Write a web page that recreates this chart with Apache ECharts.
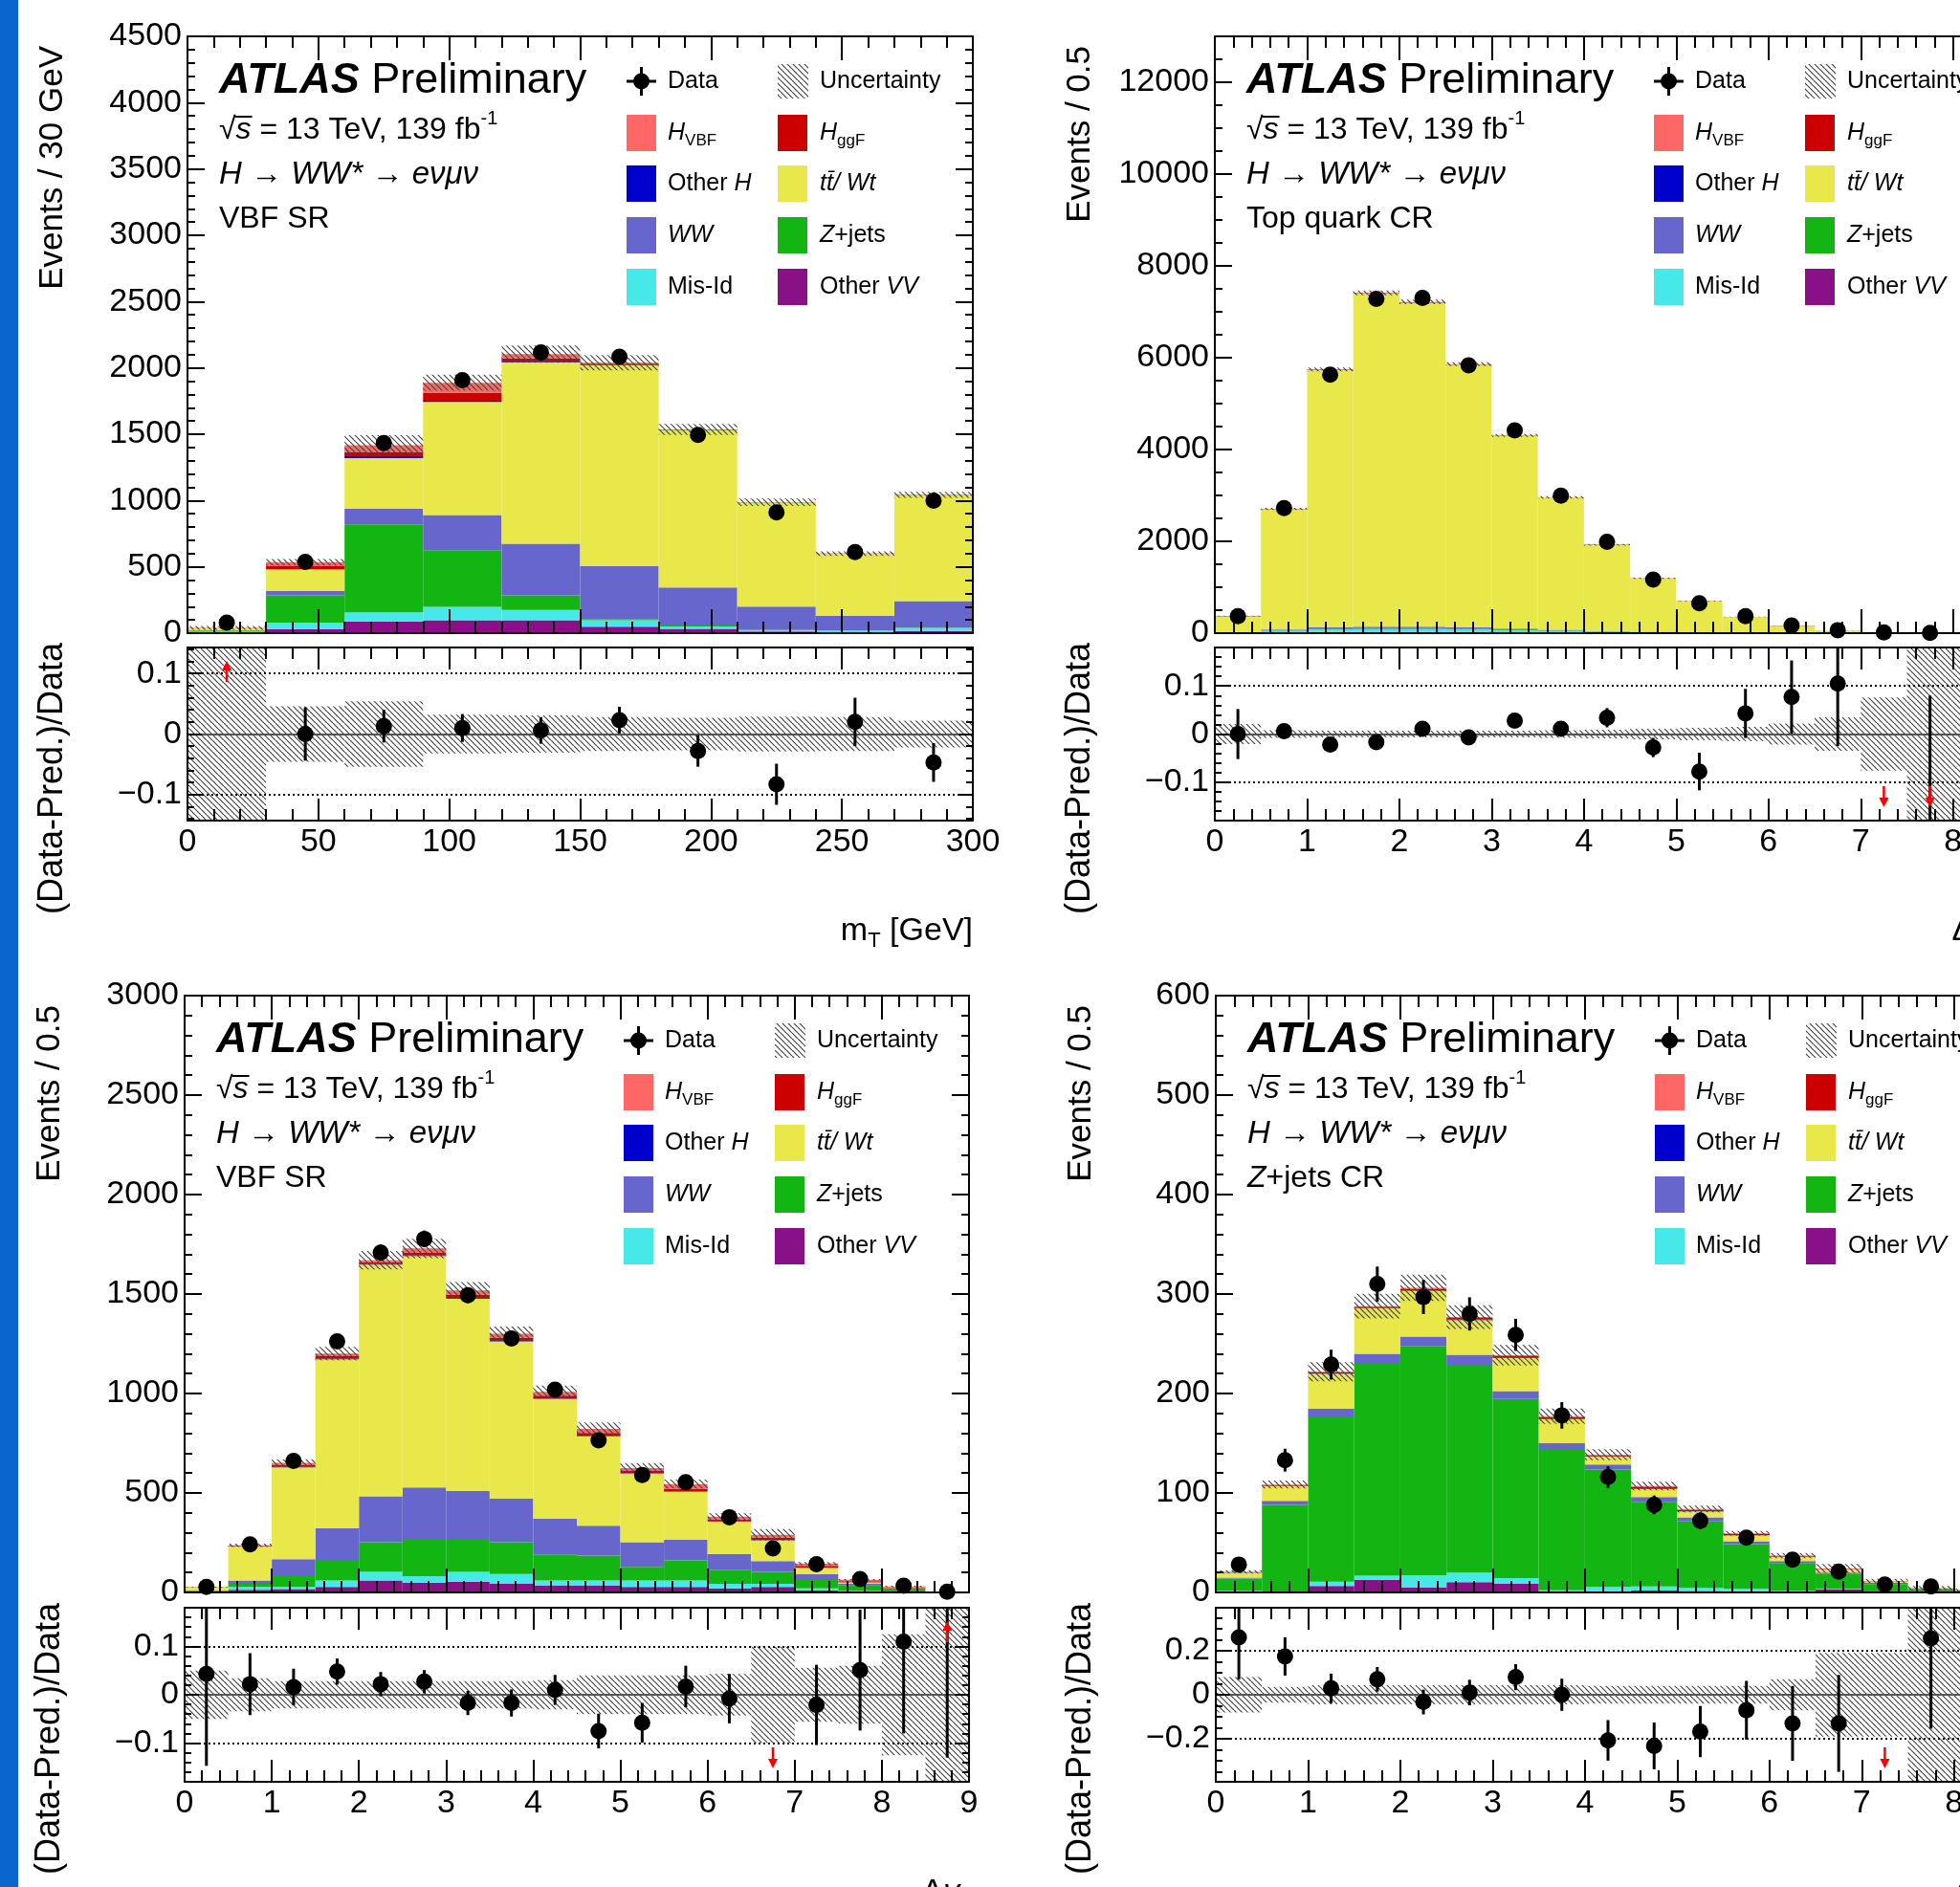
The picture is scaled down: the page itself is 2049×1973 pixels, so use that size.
<!DOCTYPE html>
<html>
<head>
<meta charset="utf-8">
<title>ATLAS Preliminary - H to WW* to e nu mu nu, VBF SR and control regions</title>
<script src="https://cdn.jsdelivr.net/npm/echarts@6.0.0/dist/echarts.min.js"></script>
<style>
  html, body { margin: 0; padding: 0; background: #ffffff; overflow: hidden; }
  /* wider than the window: the right-hand panels run past the edge and get cut, as in the original */
  #chart { width: 2120px; height: 1973px; }
</style>
</head>
<body>
<div id="chart"></div>
<script>
// ---- m_T in the VBF SR (top left), 30 GeV bins ----
var mtCenters  = [15, 45, 75, 105, 135, 165, 195, 225, 255, 285];
var mtOtherVV  = [4, 31, 89, 97, 97, 48, 32, 13, 8, 16];
var mtMisId    = [6, 48, 67, 102, 78, 49, 16, 9, 12, 23];
var mtZjets    = [8, 205, 664, 427, 109, 9, 10, 3, 2, 2];
var mtWW       = [4, 36, 120, 264, 390, 400, 287, 175, 107, 200];
var mtTop      = [16, 161, 380, 853, 1366, 1514, 1185, 785, 470, 800];
var mtOtherH   = [0, 2, 15, 10, 6, 3, 1, 0, 0, 0];
var mtGgF      = [1, 22, 32, 61, 26, 8, 3, 1, 1, 1];
var mtVbf      = [1, 30, 50, 74, 32, 8, 2, 1, 0, 1];
var mtData     = [80, 538, 1433, 1907, 2116, 2084, 1494, 911, 612, 998];
var mtDataErr  = [9, 23, 38, 44, 46, 46, 39, 30, 25, 32];
var mtRatio    = [0.5, 0.0, 0.013, 0.010, 0.006, 0.023, -0.028, -0.083, 0.020, -0.047];
var mtRatioErr = [0.1, 0.044, 0.027, 0.023, 0.022, 0.022, 0.026, 0.034, 0.040, 0.032];
var mtUnc      = [0.35, 0.046, 0.054, 0.032, 0.031, 0.028, 0.027, 0.029, 0.028, 0.022];
var mtXTicks   = [0, 50, 100, 150, 200, 250, 300];
var mtYTicks   = [0, 500, 1000, 1500, 2000, 2500, 3000, 3500, 4000, 4500];
var mtRTicks   = [-0.1, 0, 0.1];

// ---- Top quark CR (top right), 0.5 bins ----
var topCenters  = [0.25, 0.75, 1.25, 1.75, 2.25, 2.75, 3.25, 3.75, 4.25, 4.75, 5.25, 5.75, 6.25, 6.75, 7.25, 7.75, 8.25];
var topOtherVV  = [3, 15, 25, 28, 28, 25, 20, 15, 10, 7, 4, 2, 1, 0.5, 0.2, 0.1, 0];
var topMisId    = [5, 35, 55, 60, 60, 52, 42, 30, 20, 12, 7, 4, 2, 1, 0.3, 0.1, 0];
var topZjets    = [2, 12, 18, 20, 20, 17, 14, 10, 7, 5, 3, 2, 1, 0.4, 0.2, 0.1, 0];
var topWW       = [4, 18, 30, 35, 35, 30, 24, 18, 12, 8, 5, 3, 1.5, 0.7, 0.3, 0.1, 0];
var topTop      = [358, 2617, 5603, 7252, 7057, 5723, 4198, 2878, 1870, 1161, 680, 344, 148, 55, 19, 7.6, 3];
var topOtherH   = [0.5, 1, 1, 1, 1, 1, 1, 0.5, 0.5, 0.3, 0.2, 0.1, 0, 0, 0, 0, 0];
var topGgF      = [1, 5, 8, 8, 8, 7, 5, 4, 3, 2, 1, 0.6, 0.3, 0.1, 0.1, 0, 0];
var topVbf      = [0.5, 3, 5, 6, 6, 5, 4, 3, 2, 1.5, 1, 0.5, 0.3, 0.2, 0.1, 0.1, 0];
var topData     = [372, 2725, 5628, 7283, 7302, 5832, 4418, 2995, 1991, 1165, 651, 372, 167, 65, 15, 6, 2];
var topDataErr  = [19, 52, 75, 85, 85, 76, 66, 55, 45, 34, 26, 19, 13, 8, 4, 2.5, 1.5];
var topRatio    = [0.0, 0.006, -0.022, -0.017, 0.011, -0.007, 0.028, 0.011, 0.034, -0.028, -0.078, 0.043, 0.077, 0.105, -0.4, -0.5, -0.3];
var topRatioErr = [0.052, 0.012, 0.008, 0.008, 0.008, 0.009, 0.010, 0.012, 0.020, 0.020, 0.039, 0.051, 0.076, 0.13, 0.15, 0.58, 0.7];
var topUnc      = [0.021, 0.008, 0.007, 0.007, 0.007, 0.007, 0.007, 0.008, 0.009, 0.011, 0.013, 0.015, 0.022, 0.035, 0.076, 0.3, 0.3];
var topXTicks   = [0, 1, 2, 3, 4, 5, 6, 7, 8];
var topYTicks   = [0, 2000, 4000, 6000, 8000, 10000, 12000];
var topRTicks   = [-0.1, 0, 0.1];

// ---- Delta y_jj in the VBF SR (bottom left), 0.5 bins ----
var dyCenters  = [0.25, 0.75, 1.25, 1.75, 2.25, 2.75, 3.25, 3.75, 4.25, 4.75, 5.25, 5.75, 6.25, 6.75, 7.25, 7.75, 8.25, 8.75];
var dyOtherVV  = [2, 13, 17, 28, 60, 49, 54, 43, 34, 34, 28, 28, 21, 28, 10, 4, 2, 0.2];
var dyMisId    = [3, 15, 11, 32, 43, 33, 49, 49, 26, 26, 32, 32, 22, 15, 11, 3, 1, 0.1];
var dyZjets    = [3, 15, 54, 103, 150, 182, 161, 161, 129, 125, 69, 101, 71, 60, 46, 30, 12, 0.5];
var dyWW       = [3, 17, 85, 159, 230, 264, 247, 219, 182, 150, 124, 103, 79, 54, 25, 8, 4, 0.3];
var dyTop      = [14, 172, 462, 850, 1165, 1163, 965, 790, 601, 450, 344, 242, 163, 105, 32, 6, 3, 0.3];
var dyOtherH   = [0, 1, 2, 3, 3, 3, 3, 3, 2, 2, 1, 1, 1, 1, 1, 0, 0, 0];
var dyGgF      = [1, 2, 8, 12, 9, 15, 17, 15, 15, 15, 12, 15, 10, 12, 8, 5, 3, 0.2];
var dyVbf      = [1, 2, 12, 14, 10, 20, 22, 20, 20, 20, 15, 23, 14, 15, 12, 8, 5, 0.4];
var dyData     = [28, 242, 661, 1262, 1708, 1777, 1494, 1277, 1019, 764, 590, 554, 378, 221, 142, 67, 34, 4];
var dyDataErr  = [5, 16, 26, 36, 41, 42, 39, 36, 32, 28, 24, 24, 19, 15, 12, 8, 6, 2];
var dyRatio    = [0.043, 0.022, 0.016, 0.048, 0.022, 0.027, -0.017, -0.017, 0.010, -0.075, -0.058, 0.017, -0.008, -0.31, -0.021, 0.051, 0.11, 0.5];
var dyRatioErr = [0.19, 0.064, 0.038, 0.027, 0.025, 0.024, 0.025, 0.028, 0.031, 0.036, 0.041, 0.043, 0.051, 0.08, 0.083, 0.125, 0.19, 0.63];
var dyUnc      = [0.05, 0.034, 0.028, 0.028, 0.028, 0.028, 0.028, 0.028, 0.03, 0.04, 0.04, 0.04, 0.043, 0.1, 0.056, 0.06, 0.125, 0.3];
var dyXTicks   = [0, 1, 2, 3, 4, 5, 6, 7, 8, 9];
var dyYTicks   = [0, 500, 1000, 1500, 2000, 2500, 3000];
var dyRTicks   = [-0.1, 0, 0.1];

// ---- Z+jets CR (bottom right), 0.5 bins ----
var zCenters  = [0.25, 0.75, 1.25, 1.75, 2.25, 2.75, 3.25, 3.75, 4.25, 4.75, 5.25, 5.75, 6.25, 6.75, 7.25, 7.75, 8.25];
var zOtherVV  = [1, 0.5, 6.4, 12.8, 4.8, 10.3, 8.7, 0.6, 1.3, 2, 1.5, 1, 0.5, 3, 0.3, 0.2, 0];
var zMisId    = [0.5, 0.5, 4.5, 4, 12.5, 9.6, 5.8, 1.6, 4.2, 4, 3, 2.5, 1, 0.5, 0.2, 0.1, 0];
var zZjets    = [12.5, 87, 166, 214, 230, 209, 180, 142, 118, 85, 67, 45, 28, 15, 8, 3, 2];
var zWW       = [1, 4, 8, 9, 10, 10, 8, 6, 5, 5, 4, 3, 2, 1.5, 1, 0.5, 0.2];
var zTop      = [5, 15, 35, 46, 46, 35, 33, 24, 8, 8, 6, 6, 4, 3, 1.5, 0.4, 0.3];
var zOtherH   = [0.2, 0.3, 0.3, 0.5, 0.5, 0.5, 0.5, 0.5, 0.3, 0.2, 0.2, 0.2, 0, 0, 0, 0, 0];
var zGgF      = [0.3, 0.7, 1, 1, 1.5, 1.5, 1.5, 1.5, 1, 1.5, 1.3, 1, 0.8, 0.5, 0.3, 0.1, 0];
var zVbf      = [0.2, 0.5, 0.7, 0.5, 1, 1, 1, 1, 0.7, 1.3, 1, 0.7, 0.7, 0.5, 0.2, 0.1, 0];
var zData     = [28, 133, 229, 310, 297, 280, 259, 178, 116, 88, 72, 55, 33, 21, 8, 6, 3];
var zDataErr  = [5.3, 11.5, 15, 17.6, 17.2, 16.7, 16.1, 13.3, 10.8, 9.4, 8.5, 7.4, 5.7, 4.6, 2.8, 2.4, 1.7];
var zRatio    = [0.26, 0.174, 0.029, 0.07, -0.033, 0.01, 0.08, 0.0, -0.207, -0.232, -0.167, -0.07, -0.13, -0.13, -0.6, 0.256, 0.1];
var zRatioErr = [0.19, 0.087, 0.067, 0.056, 0.056, 0.058, 0.059, 0.073, 0.092, 0.106, 0.116, 0.133, 0.17, 0.22, 0.2, 0.41, 0.5];
var zUnc      = [0.08, 0.036, 0.043, 0.043, 0.043, 0.043, 0.043, 0.043, 0.04, 0.04, 0.04, 0.04, 0.07, 0.19, 0.19, 0.5, 0.5];
var zXTicks   = [0, 1, 2, 3, 4, 5, 6, 7, 8];
var zYTicks   = [0, 100, 200, 300, 400, 500, 600];
var zRTicks   = [-0.2, 0, 0.2];

// stack order, bottom to top
var COLORS = ['#881188', '#47E8E8', '#12B512', '#6666CC', '#E8E84B', '#0000CC', '#CC0000', '#FF6666'];
var FAMILY = '"Liberation Sans", Arial, Helvetica, sans-serif';

var panels = [
  { left: 196, top: 38, width: 821, height: 624, rTop: 677, rHeight: 181,
    centers: mtCenters, binW: 30, xMax: 300, xMinorStep: 10, xTicks: mtXTicks,
    yMax: 4500, yStep: 500, yMinor: 5, yTicks: mtYTicks,
    rMin: -0.143, rMax: 0.143, rTicks: mtRTicks, rMinorStep: 0.02, rRef: 0.1,
    comps: [mtOtherVV, mtMisId, mtZjets, mtWW, mtTop, mtOtherH, mtGgF, mtVbf],
    data: mtData, dataErr: mtDataErr, ratio: mtRatio, ratioErr: mtRatioErr, unc: mtUnc,
    yTitle: 'Events / 30 GeV', region: [{ t: 'VBF SR' }],
    xTitle: [{ t: 'm' }, { t: 'T', size: 22, dy: 10 }, { t: ' [GeV]' }] },
  { left: 1270, top: 38, width: 820, height: 624, rTop: 677, rHeight: 181,
    centers: topCenters, binW: 0.5, xMax: 8.5, xMinorStep: 0.2, xTicks: topXTicks,
    yMax: 13000, yStep: 2000, yMinor: 4, yTicks: topYTicks,
    rMin: -0.18, rMax: 0.18, rTicks: topRTicks, rMinorStep: 0.02, rRef: 0.1,
    comps: [topOtherVV, topMisId, topZjets, topWW, topTop, topOtherH, topGgF, topVbf],
    data: topData, dataErr: topDataErr, ratio: topRatio, ratioErr: topRatioErr, unc: topUnc,
    yTitle: 'Events / 0.5', region: [{ t: 'Top quark CR' }],
    xTitle: [{ t: '\u0394' }, { t: 'y', s: 'italic' }, { t: 'jj', s: 'italic', size: 22, dy: 10 }] },
  { left: 193, top: 1041, width: 820, height: 624, rTop: 1681, rHeight: 182,
    centers: dyCenters, binW: 0.5, xMax: 9, xMinorStep: 0.2, xTicks: dyXTicks,
    yMax: 3000, yStep: 500, yMinor: 5, yTicks: dyYTicks,
    rMin: -0.18, rMax: 0.18, rTicks: dyRTicks, rMinorStep: 0.02, rRef: 0.1,
    comps: [dyOtherVV, dyMisId, dyZjets, dyWW, dyTop, dyOtherH, dyGgF, dyVbf],
    data: dyData, dataErr: dyDataErr, ratio: dyRatio, ratioErr: dyRatioErr, unc: dyUnc,
    yTitle: 'Events / 0.5', region: [{ t: 'VBF SR' }],
    xTitle: [{ t: '\u0394' }, { t: 'y', s: 'italic' }, { t: 'jj', s: 'italic', size: 22, dy: 10 }] },
  { left: 1271, top: 1041, width: 820, height: 624, rTop: 1681, rHeight: 182,
    centers: zCenters, binW: 0.5, xMax: 8.5, xMinorStep: 0.2, xTicks: zXTicks,
    yMax: 600, yStep: 100, yMinor: 5, yTicks: zYTicks,
    rMin: -0.395, rMax: 0.395, rTicks: zRTicks, rMinorStep: 0.05, rRef: 0.2,
    comps: [zOtherVV, zMisId, zZjets, zWW, zTop, zOtherH, zGgF, zVbf],
    data: zData, dataErr: zDataErr, ratio: zRatio, ratioErr: zRatioErr, unc: zUnc,
    yTitle: 'Events / 0.5', region: [{ t: 'Z', s: 'italic' }, { t: '+jets CR' }],
    xTitle: [{ t: '\u0394' }, { t: 'y', s: 'italic' }, { t: 'jj', s: 'italic', size: 22, dy: 10 }] }
];

// hatch pattern used for the uncertainty bands
function makeHatch() {
  var c = document.createElement('canvas');
  c.width = 6; c.height = 6;
  var g = c.getContext('2d');
  g.strokeStyle = '#444';
  g.lineWidth = 1.2;
  [-6, 0, 6].forEach(function (k) {
    g.beginPath(); g.moveTo(k, 0); g.lineTo(k + 6, 6); g.stroke();
  });
  return c;
}
var hatchFill = { image: makeHatch(), repeat: 'repeat' };

var measureCtx = document.createElement('canvas').getContext('2d');
function fontOf(q, size) { return (q.s || '') + ' ' + (q.size || size) + 'px ' + FAMILY; }
function textWidth(t, font) { measureCtx.font = font; return measureCtx.measureText(t).width; }

var graphics = [];
// writes a line of text made of parts (italic / sub / superscript pieces)
function addParts(x, y, parts, size, align) {
  var widths = parts.map(function (q) { return textWidth(q.t, fontOf(q, size)); });
  var total = widths.reduce(function (a, b) { return a + b; }, 0);
  var cx = align === 'right' ? x - total : x;
  parts.forEach(function (q, i) {
    graphics.push({ type: 'text', x: cx, y: y + (q.dy || 0), silent: true, z: 100,
      style: { text: q.t, font: fontOf(q, size), fill: '#000', align: 'left', verticalAlign: 'middle' } });
    q.x0 = cx; q.x1 = cx + widths[i];
    cx += widths[i];
  });
  return parts;
}

function signedLabel(v) { return v < 0 ? '\u2212' + (-v) : String(v); }
function plainLabel(v) { return String(v); }

function bandRenderer(lo, hi) {
  return function (params, api) {
    var x = api.value(0), w = api.value(1), c = api.value(2), h = api.value(3);
    var y0 = Math.max(c - h, lo), y1 = Math.min(c + h, hi);
    if (y1 <= y0) return null;
    var a = api.coord([x - w / 2, y1]), b = api.coord([x + w / 2, y0]);
    return { type: 'rect', shape: { x: a[0], y: a[1], width: b[0] - a[0], height: b[1] - a[1] },
      style: { fill: hatchFill, stroke: null } };
  };
}

function pointRenderer(lo, hi) {
  return function (params, api) {
    var x = api.value(0), y = api.value(1), e = api.value(2);
    var kids = [];
    var top = Math.min(y + e, hi), bot = Math.max(y - e, lo);
    if (top > bot) {
      var p1 = api.coord([x, top]), p2 = api.coord([x, bot]);
      kids.push({ type: 'line', shape: { x1: p1[0], y1: p1[1], x2: p2[0], y2: p2[1] },
        style: { stroke: '#000', lineWidth: 3 } });
    }
    if (y >= lo && y <= hi) {
      var c = api.coord([x, y]);
      kids.push({ type: 'circle', shape: { cx: c[0], cy: c[1], r: 8.5 }, style: { fill: '#000' } });
    }
    return { type: 'group', children: kids };
  };
}

// red arrows for ratio points outside the visible range
function arrowRenderer(lo, hi) {
  return function (params, api) {
    var x = api.value(0), y = api.value(1);
    if (y <= hi && y >= lo) return null;
    var up = y > hi;
    var edge = api.coord([x, up ? hi : lo]);
    var s = up ? 1 : -1;
    var tipY = edge[1] + s * 14, tailY = edge[1] + s * 36, baseY = tipY + s * 10;
    return { type: 'group', children: [
      { type: 'line', shape: { x1: edge[0], y1: tailY, x2: edge[0], y2: baseY }, style: { stroke: '#ff0000', lineWidth: 2.5 } },
      { type: 'polygon', shape: { points: [[edge[0], tipY], [edge[0] - 5, baseY], [edge[0] + 5, baseY]] }, style: { fill: '#ff0000' } }
    ] };
  };
}

var grids = [], xAxes = [], yAxes = [], series = [];
var BLACK = { color: '#000', width: 2 };
var labelStyle = { fontSize: 34, fontFamily: FAMILY, color: '#000', margin: 6 };

// x axes carry explicit tick positions so the range stays exactly [0, xMax]
function tickX(g, p, pos, labels, values, len, line) {
  return { type: 'value', gridIndex: g, position: pos, min: 0, max: p.xMax, z: 10,
    axisLine: { show: line, onZero: false, lineStyle: BLACK },
    axisTick: { show: true, inside: true, length: len, customValues: values, lineStyle: BLACK },
    minorTick: { show: false },
    axisLabel: Object.assign({ show: labels, customValues: values, formatter: plainLabel }, labelStyle),
    splitLine: { show: false } };
}
function mainY(g, p, pos, labels) {
  return { type: 'value', gridIndex: g, position: pos, min: 0, max: p.yMax, interval: p.yStep, z: 10,
    axisLine: { show: true, onZero: false, lineStyle: BLACK },
    axisTick: { show: true, inside: true, length: 18, lineStyle: BLACK },
    minorTick: { show: true, splitNumber: p.yMinor, length: 8, lineStyle: BLACK },
    axisLabel: Object.assign({ show: labels, customValues: p.yTicks, formatter: plainLabel }, labelStyle),
    splitLine: { show: false }, minorSplitLine: { show: false } };
}
function ratioY(g, p, pos, labels, values, len, line) {
  return { type: 'value', gridIndex: g, position: pos, min: p.rMin, max: p.rMax, z: 10,
    axisLine: { show: line, onZero: false, lineStyle: BLACK },
    axisTick: { show: true, inside: true, length: len, customValues: values, lineStyle: BLACK },
    minorTick: { show: false },
    axisLabel: Object.assign({ show: labels, customValues: values, formatter: signedLabel }, labelStyle),
    splitLine: { show: false } };
}
function minorList(lo, hi, step, majors) {
  var out = [];
  var n0 = Math.ceil(lo / step - 1e-9), n1 = Math.floor(hi / step + 1e-9);
  for (var n = n0; n <= n1; n++) {
    var v = +(n * step).toFixed(4);
    if (majors.indexOf(v) < 0) out.push(v);
  }
  return out;
}

panels.forEach(function (p, pi) {
  var gMain = grids.length;
  grids.push({ left: p.left, top: p.top, width: p.width, height: p.height });
  var gRat = grids.length;
  grids.push({ left: p.left, top: p.rTop, width: p.width, height: p.rHeight });

  var xMinors = minorList(0, p.xMax, p.xMinorStep, p.xTicks);
  var xMain = xAxes.length;
  xAxes.push(tickX(gMain, p, 'bottom', false, p.xTicks, 25, true));
  xAxes.push(tickX(gMain, p, 'top', false, p.xTicks, 25, true));
  xAxes.push(tickX(gMain, p, 'bottom', false, xMinors, 12, false));
  xAxes.push(tickX(gMain, p, 'top', false, xMinors, 12, false));
  var xCat = xAxes.length;
  xAxes.push({ type: 'category', gridIndex: gMain, data: p.centers, show: false, boundaryGap: true });
  var xRat = xAxes.length;
  xAxes.push(tickX(gRat, p, 'bottom', true, p.xTicks, 23, true));
  xAxes.push(tickX(gRat, p, 'top', false, p.xTicks, 23, true));
  xAxes.push(tickX(gRat, p, 'bottom', false, xMinors, 12, false));
  xAxes.push(tickX(gRat, p, 'top', false, xMinors, 12, false));

  var yMain = yAxes.length;
  yAxes.push(mainY(gMain, p, 'left', true));
  yAxes.push(mainY(gMain, p, 'right', false));
  var yRat = yAxes.length;
  var rMinors = minorList(p.rMin, p.rMax, p.rMinorStep, p.rTicks);
  yAxes.push(ratioY(gRat, p, 'left', true, p.rTicks, 15, true));
  yAxes.push(ratioY(gRat, p, 'right', false, p.rTicks, 15, true));
  yAxes.push(ratioY(gRat, p, 'left', false, rMinors, 7, false));
  yAxes.push(ratioY(gRat, p, 'right', false, rMinors, 7, false));

  var totals = p.centers.map(function (c, i) {
    return p.comps.reduce(function (s, arr) { return s + arr[i]; }, 0);
  });

  p.comps.forEach(function (arr, k) {
    series.push({ type: 'bar', xAxisIndex: xCat, yAxisIndex: yMain, stack: 'stack' + pi,
      data: arr, barWidth: '100%', barCategoryGap: '0%', itemStyle: { color: COLORS[k], borderWidth: 0 },
      silent: true, z: 2 });
  });
  series.push({ type: 'custom', xAxisIndex: xMain, yAxisIndex: yMain, silent: true, z: 3,
    renderItem: bandRenderer(0, p.yMax),
    data: p.centers.map(function (c, i) { return [c, p.binW, totals[i], totals[i] * p.unc[i]]; }) });
  series.push({ type: 'custom', xAxisIndex: xMain, yAxisIndex: yMain, silent: true, z: 12,
    renderItem: pointRenderer(0, p.yMax),
    data: p.centers.map(function (c, i) { return [c, p.data[i], p.dataErr[i]]; }) });

  series.push({ type: 'custom', xAxisIndex: xRat, yAxisIndex: yRat, silent: true, z: 3,
    renderItem: bandRenderer(p.rMin, p.rMax),
    data: p.centers.map(function (c, i) { return [c, p.binW, 0, p.unc[i]]; }) });
  series.push({ type: 'line', xAxisIndex: xRat, yAxisIndex: yRat, silent: true, z: 4,
    symbol: 'none', lineStyle: { opacity: 0 },
    data: p.centers.map(function (c) { return [c, 0]; }),
    markLine: { silent: true, symbol: ['none', 'none'], label: { show: false }, animation: false,
      data: [
        { yAxis: 0, lineStyle: { color: '#555', width: 2, type: 'solid' } },
        { yAxis: p.rRef, lineStyle: { color: '#000', width: 2, type: [2, 3] } },
        { yAxis: -p.rRef, lineStyle: { color: '#000', width: 2, type: [2, 3] } }
      ] } });
  series.push({ type: 'custom', xAxisIndex: xRat, yAxisIndex: yRat, silent: true, z: 12,
    renderItem: pointRenderer(p.rMin, p.rMax),
    data: p.centers.map(function (c, i) { return [c, p.ratio[i], p.ratioErr[i]]; }) });
  series.push({ type: 'custom', xAxisIndex: xRat, yAxisIndex: yRat, silent: true, z: 12,
    renderItem: arrowRenderer(p.rMin, p.rMax),
    data: p.centers.map(function (c, i) { return [c, p.ratio[i]]; }) });

  // ---- texts ----
  var L = p.left, T = p.top;
  addParts(L + 33, T + 47, [{ t: 'ATLAS', s: 'italic bold' }, { t: ' Preliminary' }], 45);
  var sq = addParts(L + 33, T + 98, [{ t: '\u221A' }, { t: 's', s: 'italic' }, { t: ' = 13 TeV, 139 fb' },
    { t: '-1', size: 20, dy: -12 }], 32);
  graphics.push({ type: 'line', silent: true, z: 100,
    shape: { x1: sq[1].x0 - 1, y1: T + 98 - 14, x2: sq[1].x1 + 1, y2: T + 98 - 14 },
    style: { stroke: '#000', lineWidth: 2 } });
  addParts(L + 33, T + 145, [{ t: 'H \u2192 WW* \u2192 e\u03BD\u03BC\u03BD', s: 'italic' }], 33);
  addParts(L + 33, T + 191, p.region, 32);

  // legend
  var c1 = L + 459, c2 = L + 617, t1 = L + 502, t2 = L + 661;
  var rows = [T + 47, T + 101, T + 154, T + 208, T + 262];
  graphics.push({ type: 'line', silent: true, z: 100, shape: { x1: c1, y1: rows[0], x2: c1 + 31, y2: rows[0] }, style: { stroke: '#000', lineWidth: 3 } });
  graphics.push({ type: 'line', silent: true, z: 100, shape: { x1: c1 + 15.5, y1: rows[0] - 15, x2: c1 + 15.5, y2: rows[0] + 15 }, style: { stroke: '#000', lineWidth: 3 } });
  graphics.push({ type: 'circle', silent: true, z: 101, shape: { cx: c1 + 15.5, cy: rows[0], r: 8.5 }, style: { fill: '#000' } });
  graphics.push({ type: 'rect', silent: true, z: 100, shape: { x: c2, y: rows[0] - 18, width: 32, height: 36 }, style: { fill: hatchFill } });
  addParts(t1, rows[0], [{ t: 'Data' }], 25);
  addParts(t2, rows[0], [{ t: 'Uncertainty' }], 25);
  var col1 = [
    [7, [{ t: 'H', s: 'italic' }, { t: 'VBF', size: 17, dy: 8 }]],
    [5, [{ t: 'Other ' }, { t: 'H', s: 'italic' }]],
    [3, [{ t: 'WW', s: 'italic' }]],
    [1, [{ t: 'Mis-Id' }]]
  ];
  var col2 = [
    [6, [{ t: 'H', s: 'italic' }, { t: 'ggF', size: 17, dy: 8 }]],
    [4, [{ t: 'tt\u0304/ Wt', s: 'italic' }]],
    [2, [{ t: 'Z', s: 'italic' }, { t: '+jets' }]],
    [0, [{ t: 'Other ' }, { t: 'VV', s: 'italic' }]]
  ];
  col1.forEach(function (e, i) {
    graphics.push({ type: 'rect', silent: true, z: 100, shape: { x: c1, y: rows[i + 1] - 19, width: 31, height: 38 }, style: { fill: COLORS[e[0]] } });
    addParts(t1, rows[i + 1], e[1], 25);
  });
  col2.forEach(function (e, i) {
    graphics.push({ type: 'rect', silent: true, z: 100, shape: { x: c2, y: rows[i + 1] - 19, width: 31, height: 38 }, style: { fill: COLORS[e[0]] } });
    addParts(t2, rows[i + 1], e[1], 25);
  });

  // axis titles
  graphics.push({ type: 'text', silent: true, z: 100, x: L - 141, y: T + 10, rotation: Math.PI / 2,
    style: { text: p.yTitle, font: '35px ' + FAMILY, fill: '#000', align: 'right', verticalAlign: 'middle' } });
  graphics.push({ type: 'text', silent: true, z: 100, x: L - 141, y: p.rTop - 5, rotation: Math.PI / 2,
    style: { text: '(Data-Pred.)/Data', font: '36px ' + FAMILY, fill: '#000', align: 'right', verticalAlign: 'middle' } });
  addParts(L + p.width, p.rTop + p.rHeight + 116, p.xTitle, 34, 'right');
});

// blue strip on the left edge
graphics.push({ type: 'rect', silent: true, z: 100, shape: { x: 0, y: 0, width: 19, height: 1973 }, style: { fill: '#0A66CC' } });

var chart = echarts.init(document.getElementById('chart'), null, { renderer: 'canvas' });
chart.setOption({
  animation: false,
  backgroundColor: '#ffffff',
  textStyle: { fontFamily: FAMILY },
  grid: grids,
  xAxis: xAxes,
  yAxis: yAxes,
  series: series,
  graphic: { elements: graphics }
});
</script>
</body>
</html>
